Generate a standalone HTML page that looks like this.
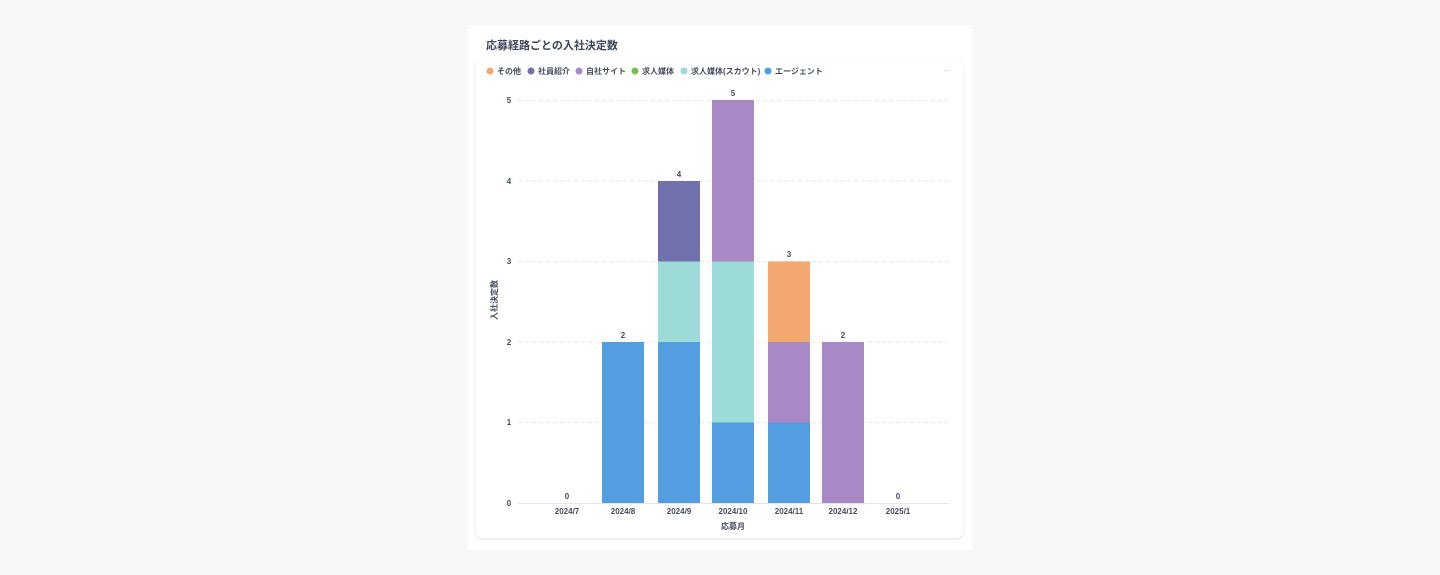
<!DOCTYPE html>
<html><head><meta charset="utf-8"><style>
body{margin:0;width:1440px;height:575px;background:#f7f7f7;font-family:"Liberation Sans","Noto Sans CJK JP",sans-serif;position:relative;overflow:hidden}
.panel{position:absolute;left:468px;top:25px;width:504px;height:525px;background:#fff}
.card{position:absolute;left:476px;top:60px;width:487px;height:478px;background:#fff;border-radius:6px;box-shadow:0 1px 3px rgba(0,0,0,.12)}
.t{position:absolute;left:486px;top:37px;font-size:11px;font-weight:bold;color:#3d4657}
</style></head><body>
<div class="panel"></div><div class="card"></div>
<div class="t">応募経路ごとの入社決定数</div>
<svg width="1440" height="575" style="position:absolute;left:0;top:0" font-family="Liberation Sans, Noto Sans CJK JP, sans-serif">
<g font-size="8" fill="#444c5c" font-weight="bold">
<circle cx="490" cy="71" r="3.5" fill="#f2a86f"/><text x="497" y="74">その他</text>
<circle cx="531" cy="71" r="3.5" fill="#7071ad"/><text x="538" y="74">社員紹介</text>
<circle cx="579" cy="71" r="3.5" fill="#a889c5"/><text x="586" y="74">自社サイト</text>
<circle cx="635" cy="71" r="3.5" fill="#7cc04b"/><text x="642" y="74">求人媒体</text>
<circle cx="684" cy="71" r="3.5" fill="#9ddbd9"/><text x="691" y="74">求人媒体(スカウト)</text>
<circle cx="768" cy="71" r="3.5" fill="#529ee0"/><text x="775" y="74">エージェント</text>
<text x="943" y="73" fill="#aaa" font-weight="normal">···</text>
</g>
<g stroke="#e8e8e8" stroke-dasharray="4 3">
<line x1="518" x2="948" y1="100.5" y2="100.5"/><line x1="518" x2="948" y1="181" y2="181"/><line x1="518" x2="948" y1="261.5" y2="261.5"/><line x1="518" x2="948" y1="342" y2="342"/><line x1="518" x2="948" y1="422.5" y2="422.5"/>
</g>
<line x1="518" x2="948" y1="503.5" y2="503.5" stroke="#e5e5e5"/>
<g font-size="8" fill="#444c5c" font-weight="bold" text-anchor="middle">
<text x="509" y="103">5</text><text x="509" y="184">4</text><text x="509" y="264">3</text><text x="509" y="345">2</text><text x="509" y="425">1</text><text x="509" y="506">0</text>
<text x="567" y="514">2024/7</text><text x="623" y="514">2024/8</text><text x="679" y="514">2024/9</text><text x="733" y="514">2024/10</text><text x="789" y="514">2024/11</text><text x="843" y="514">2024/12</text><text x="898" y="514">2025/1</text>
<text x="733" y="529">応募月</text>
<text transform="translate(497,300) rotate(-90)">入社決定数</text>
<text x="567" y="499">0</text><text x="623" y="338">2</text><text x="679" y="177">4</text><text x="733" y="96">5</text><text x="789" y="257">3</text><text x="843" y="338">2</text><text x="898" y="499">0</text>
</g>
<rect x="602" y="342" width="42" height="161" fill="#529ee0"/>
<rect x="658" y="342" width="42" height="161" fill="#529ee0"/>
<rect x="658" y="261.5" width="42" height="80.5" fill="#9ddbd9"/>
<rect x="658" y="181" width="42" height="80.5" fill="#7071ad"/>
<rect x="712" y="422.5" width="42" height="80.5" fill="#529ee0"/>
<rect x="712" y="261.5" width="42" height="161" fill="#9ddbd9"/>
<rect x="712" y="100" width="42" height="161.5" fill="#a889c5"/>
<rect x="768" y="422.5" width="42" height="80.5" fill="#529ee0"/>
<rect x="768" y="342" width="42" height="80.5" fill="#a889c5"/>
<rect x="768" y="261.5" width="42" height="80.5" fill="#f2a86f"/>
<rect x="822" y="342" width="42" height="161" fill="#a889c5"/>
</svg>
</body></html>
